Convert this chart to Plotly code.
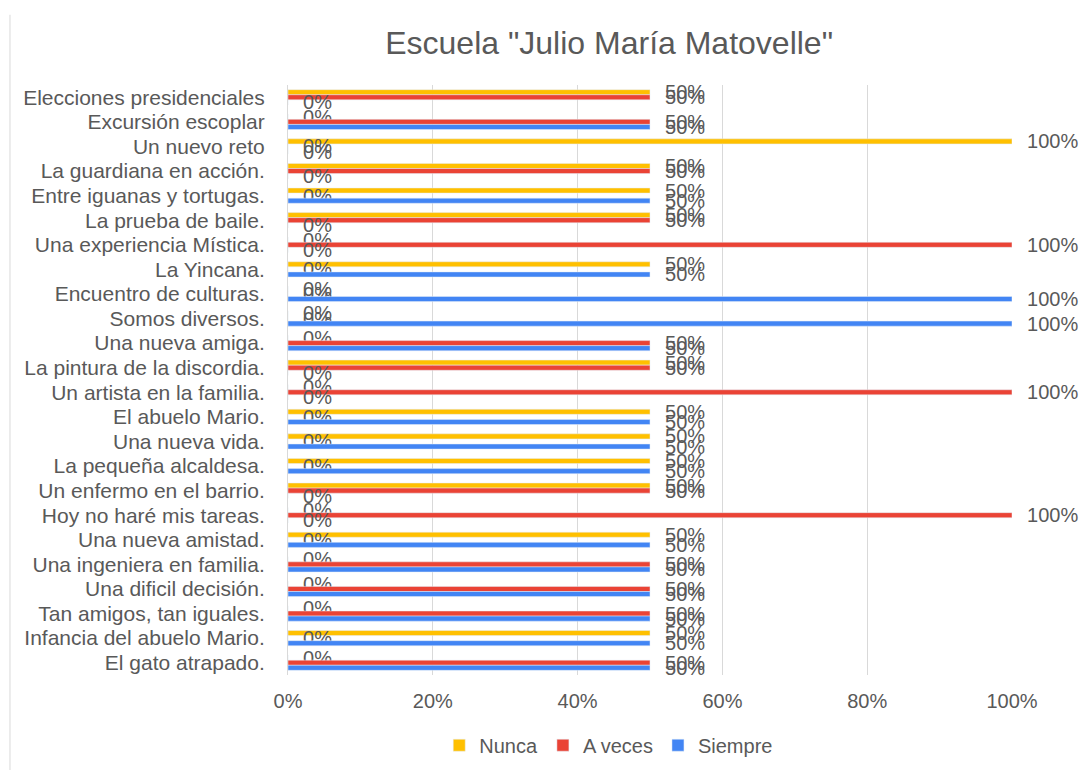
import plotly.graph_objects as go

categorias = [
    "Elecciones presidenciales", "Excursión escoplar", "Un nuevo reto",
    "La guardiana en acción.", "Entre iguanas y tortugas.", "La prueba de baile.",
    "Una experiencia Mística.", "La Yincana.", "Encuentro de culturas.",
    "Somos diversos.", "Una nueva amiga.", "La pintura de la discordia.",
    "Un artista en la familia.", "El abuelo Mario.", "Una nueva vida.",
    "La pequeña alcaldesa.", "Un enfermo en el barrio.", "Hoy no haré mis tareas.",
    "Una nueva amistad.", "Una ingeniera en familia.", "Una dificil decisión.",
    "Tan amigos, tan iguales.", "Infancia del abuelo Mario.", "El gato atrapado.",
]

nunca = [0.5, 0, 1, 0.5, 0.5, 0.5, 0, 0.5, 0, 0, 0, 0.5,
         0, 0.5, 0.5, 0.5, 0.5, 0, 0.5, 0, 0, 0, 0.5, 0]
a_veces = [0.5, 0.5, 0, 0.5, 0, 0.5, 1, 0, 0, 0, 0.5, 0.5,
           1, 0, 0, 0, 0.5, 1, 0, 0.5, 0.5, 0.5, 0, 0.5]
siempre = [0, 0.5, 0, 0, 0.5, 0, 0, 0.5, 1, 1, 0.5, 0,
           0, 0.5, 0.5, 0.5, 0, 0, 0.5, 0.5, 0.5, 0.5, 0.5, 0.5]

series = [("Nunca", nunca, "#FFC000"),
          ("A veces", a_veces, "#EA4335"),
          ("Siempre", siempre, "#4285F4")]

gris = "#595959"
fuente = "Liberation Sans, Arial, sans-serif"

fig = go.Figure()
for nombre, valores, color in series:
    fig.add_trace(go.Bar(
        y=categorias, x=valores, name=nombre, orientation="h",
        marker_color=color,
        # small spaces push the label away from the bar end, like Excel
        text=["\u00a0\u00a0\u2009" + f"{v:.0%}" for v in valores],
        textposition="outside", constraintext="none", cliponaxis=False,
        textfont=dict(size=20, color=gris, family=fuente),
    ))

fig.update_layout(
    width=1080, height=770,
    barmode="group", bargap=0.38, bargroupgap=0,
    paper_bgcolor="white", plot_bgcolor="white",
    margin=dict(l=288, r=68, t=85, b=95, autoexpand=False),
    font=dict(family=fuente, size=20, color=gris),
    title=dict(text='Escuela "Julio María Matovelle"', x=0.564, xanchor="center",
               y=0.945, yanchor="middle", font=dict(size=32, color=gris)),
    legend=dict(orientation="h", x=0.443, xanchor="center", y=-0.119, yanchor="middle",
                font=dict(size=20, color=gris), itemwidth=30),
)
fig.update_xaxes(range=[0, 1], tickformat=".0%", dtick=0.2, showgrid=True,
                 gridcolor="#D9D9D9", gridwidth=1, zeroline=False,
                 tickfont=dict(size=20, color=gris), ticks="",
                 ticklabelstandoff=12, fixedrange=True)
# explicit tick values so no category label gets skipped
fig.update_yaxes(autorange="reversed", showline=True, linecolor="#D9D9D9",
                 tickmode="array", tickvals=categorias, ticktext=categorias,
                 ticks="", tickfont=dict(size=21, color=gris), ticklabelstandoff=18)

fig.add_shape(type="line", xref="paper", yref="paper", x0=-0.384, x1=-0.384,
              y0=-0.161, y1=1.119, line=dict(color="#D9D9D9", width=1))

# make the page exactly the size of the figure (no body margin, no extra height)
ajuste_pagina = """
document.documentElement.style.margin='0';
document.documentElement.style.overflow='hidden';
document.body.style.margin='0';
document.body.style.overflow='hidden';
document.getElementById('{plot_id}').style.display='block';
"""
fig.write_html("out.html", config={"displayModeBar": False}, post_script=ajuste_pagina)
